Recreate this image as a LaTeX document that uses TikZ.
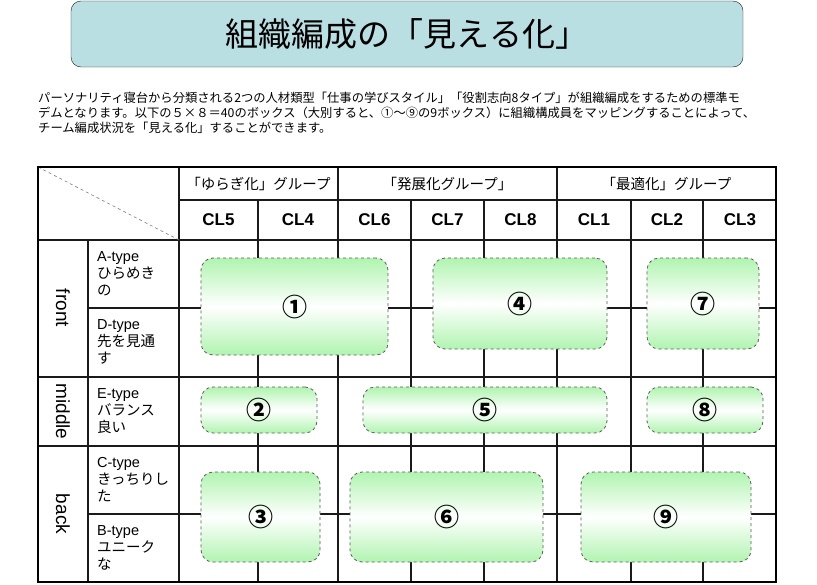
\documentclass[tikz,border=0pt]{standalone}
\usepackage{fontspec}
\setmainfont{Liberation Sans}
\newfontfamily\jp{Noto Sans CJK JP}
\usepackage{xcolor}
\usetikzlibrary{positioning}
\definecolor{MapTeal}{HTML}{B9DFE3}
\definecolor{MapGreen}{HTML}{B0F4B0}
\definecolor{MapDash}{HTML}{5A5A5A}
\definecolor{MapInk}{HTML}{1A1A1A}

\begin{document}
\begin{tikzpicture}[x=1pt,y=-1pt,
  gridline/.style={draw=MapInk,line width=1.2pt},
  frameline/.style={draw=black,line width=2.6pt},
  clhead/.style={font=\fontsize{17}{20}\selectfont\bfseries},
  grouphead/.style={font=\jp\fontsize{14.5}{17}\selectfont},
  layerlabel/.style={rotate=-90,font=\fontsize{19}{20}\selectfont},
  typelabel/.style={anchor=west,align=left,inner sep=0pt,font=\fontsize{14.5}{17}\selectfont},
  mapbox/.style={draw=MapDash,dashed,line width=0.8pt,rounded corners=12pt,top color=MapGreen,bottom color=MapGreen,middle color=white,font=\jp\bfseries\fontsize{25}{26}\selectfont}]
\useasboundingbox (0,0) rectangle (817,584);
% title and intro
\node[draw=MapInk,fill=MapTeal,rounded corners=10pt,minimum width=672pt,minimum height=66pt,font=\jp\fontsize{33}{36}\selectfont] (title) at (407,34) {組織編成の「見える化」};
\node[anchor=north west,align=left,inner sep=0pt,font=\jp\fontsize{12.3}{15}\selectfont] (intro) at (38,92) {パーソナリティ寝台から分類される2つの人材類型「仕事の学びスタイル」「役割志向8タイプ」が組織編成をするための標準モ\\デムとなります。以下の５×８＝40のボックス（大別すると、①～⑨の9ボックス）に組織構成員をマッピングすることによって、\\チーム編成状況を「見える化」することができます。};
% grid
\draw[gridline] (179,200)--(776,200);
\draw[gridline] (38,240)--(776,240);
\draw[gridline] (88,308)--(776,308);
\draw[gridline] (38,377)--(776,377);
\draw[gridline] (38,446)--(776,446);
\draw[gridline] (88,514)--(776,514);
\foreach \gx in {179,338,557} \draw[gridline] (\gx,167)--(\gx,582);
\foreach \gx in {258,411,484,631,703} \draw[gridline] (\gx,200)--(\gx,582);
\draw[gridline] (88,240)--(88,582);
\draw[draw=MapDash!80,dashed,line width=0.6pt] (38,167)--(179,240);
\draw[frameline] (38,167) rectangle (776,582);
% headers
\node[grouphead] (grpA) at (258.5,184) {「ゆらぎ化」グループ};
\node[grouphead] (grpB) at (447.5,184) {「発展化グループ」};
\node[grouphead] (grpC) at (666.5,184) {「最適化」グループ};
\foreach \cl/\cx in {5/218.5,4/298,6/374.5,7/447.5,8/520.5,1/594,2/667,3/740}
  \node[clhead] (cl\cl) at (\cx,220) {CL\cl};
\node[layerlabel] (front) at (63,308) {front};
\node[layerlabel] (middle) at (63,411.5) {middle};
\node[layerlabel] (back) at (63,514) {back};
\node[typelabel] (typeA) at (97,274) {A-type\\{\jp ひらめき}\\{\jp の}};
\node[typelabel] (typeD) at (97,342) {D-type\\{\jp 先を見通}\\{\jp す}};
\node[typelabel] (typeE) at (97,411) {E-type\\{\jp バランス}\\{\jp 良い}};
\node[typelabel] (typeC) at (97,480) {C-type\\{\jp きっちりし}\\{\jp た}};
\node[typelabel] (typeB) at (97,548) {B-type\\{\jp ユニーク}\\{\jp な}};
% nine boxes
\foreach \n/\cx/\cy/\bw/\bh/\lab in {1/294.5/306.5/187/97/①,4/520/303.5/174/91/④,7/703/303.5/112/91/⑦,
    2/259/410/116/46/②,5/485/410/244/46/⑤,8/705/410/116/46/⑧,
    3/260.5/517/119/90/③,6/446.5/517/193/90/⑥,9/666/517/170/90/⑨}
  \node[mapbox,minimum width=\bw pt,minimum height=\bh pt] (box\n) at (\cx,\cy) {\lab};
\end{tikzpicture}
\end{document}
